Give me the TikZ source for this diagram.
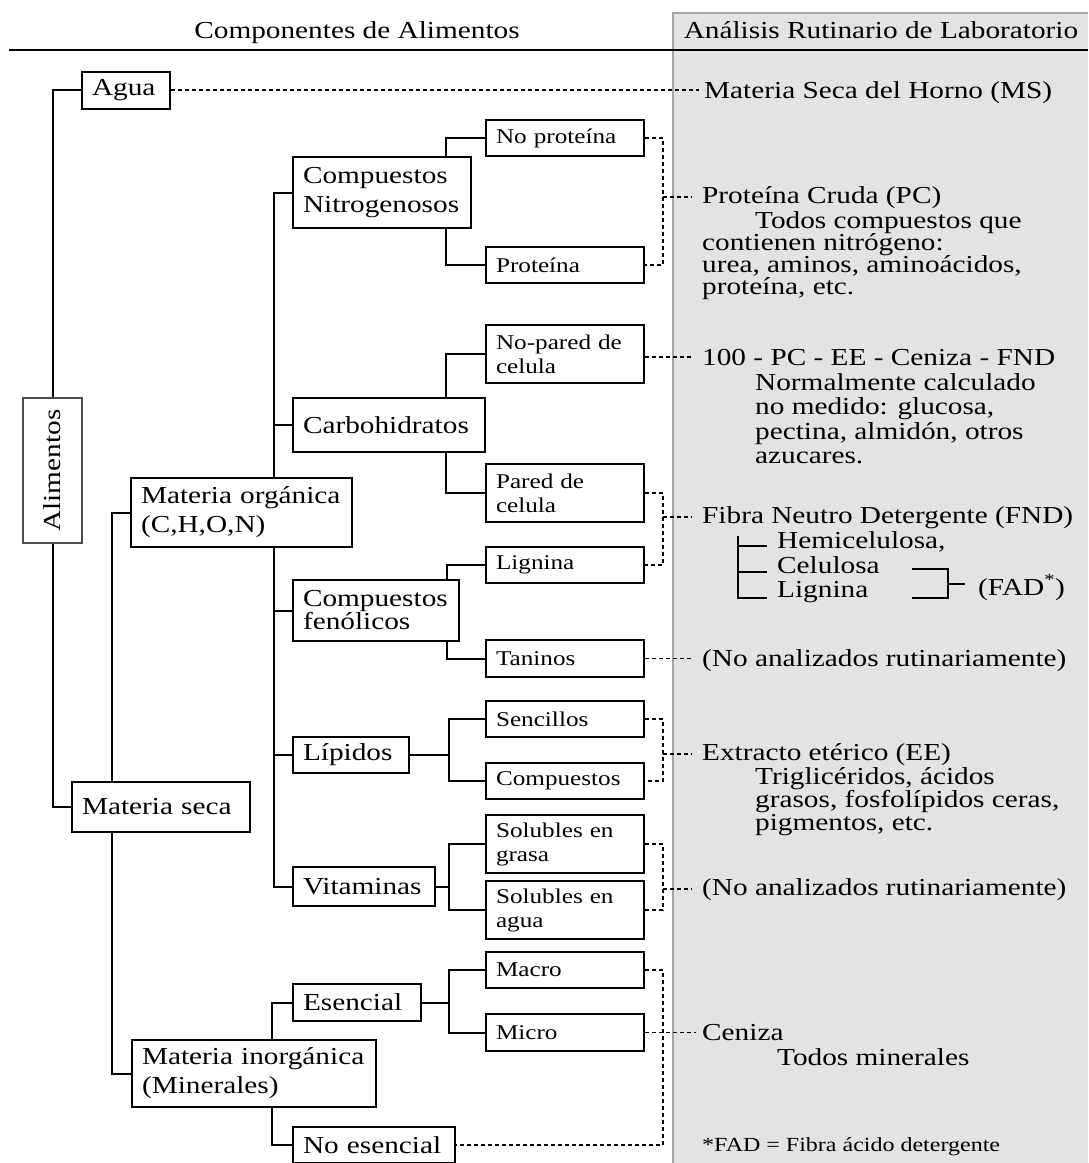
\documentclass[tikz,border=0pt]{standalone}
\usepackage{graphicx}
\usepackage{fontspec}
\setmainfont{Liberation Serif}[FakeStretch=1.2]
\usetikzlibrary{calc}
\newcommand\fmain{\fontsize{24.4}{29}\selectfont}
\newcommand\fleaf{\fontsize{21}{24}\selectfont}
\newcommand\fnote{\fontsize{20}{24}\selectfont}
\begin{document}
\begin{tikzpicture}[x=1pt,y=-1pt,
  bx/.style={draw=black, line width=2pt, inner xsep=10pt, inner ysep=0pt, align=left, font=\fmain},
  leaf/.style={bx, font=\fleaf, text width=138pt},
  ln/.style={line width=2pt},
  dsh/.style={line width=1.5pt, dash pattern=on 4pt off 3pt},
  pt/.style={anchor=base west, inner sep=0pt, font=\fmain},
]
\useasboundingbox (0,0) rectangle (1088,1163);
% panel
\fill[gray!22] (673,13) rectangle (1088,1163);
\draw[gray!70, line width=1.8pt] (1088,13) -- (673,13) -- (673,1163);
% header
\node[anchor=base, inner sep=0pt, font=\fmain] (h1) at (357,38) {Componentes de Alimentos};
\node[anchor=base, inner sep=0pt, font=\fmain] (h2) at (881,38) {Análisis Rutinario de Laboratorio};
\draw[line width=2.8pt] (9,50) -- (1088,50);

% main boxes
\node[bx, minimum height=37pt, text width=68pt] (agua) at (126,90) {Agua};
\node[bx, draw=gray!60!black, minimum height=145pt, text width=39pt, align=center] (alim) at (52.5,470.5) {\rotatebox{90}{Alimentos}};
\node[bx, minimum height=50pt, text width=158pt] (ms) at (161,807) {Materia~seca};
\node[bx, minimum height=69pt, text width=201pt] (mo) at (241.5,512.5) {Materia~orgánica\\(C,H,O,N)};
\node[bx, minimum height=67pt, text width=224pt] (mi) at (254,1073.5) {Materia~inorgánica\\(Minerales)};
\node[bx, minimum height=71pt, text width=158pt] (cn) at (382,192.5) {Compuestos\\Nitrogenosos};
\node[bx, minimum height=54pt, text width=172pt] (carb) at (389,425) {Carbohidratos};
\node[bx, minimum height=61pt, text width=146pt, font=\fontsize{24.4}{23}\selectfont] (fen) at (376,610.5) {Compuestos\\fenólicos};
\node[bx, minimum height=36pt, text width=96pt] (lip) at (351,755) {Lípidos};
\node[bx, minimum height=39pt, text width=122pt] (vit) at (364,886.5) {Vitaminas};
\node[bx, minimum height=37pt, text width=108pt] (ese) at (357,1002.5) {Esencial};
\node[bx, minimum height=36pt, text width=142pt] (noes) at (374,1145) {No~esencial};

% leaves
\node[leaf, minimum height=36pt] (noprot) at (565,138) {No~proteína};
\node[leaf, minimum height=36pt] (prot) at (565,265) {Proteína};
\node[leaf, minimum height=58pt] (nopared) at (565,354) {No-pared~de\\celula};
\node[leaf, minimum height=58pt] (pared) at (565,493) {Pared~de\\celula};
\node[leaf, minimum height=36pt] (lign) at (565,565) {Lignina};
\node[leaf, minimum height=37pt] (tan) at (565,658.5) {Taninos};
\node[leaf, minimum height=36pt] (sen) at (565,719) {Sencillos};
\node[leaf, minimum height=36pt] (comp) at (565,781) {Compuestos};
\node[leaf, minimum height=58pt] (sg) at (565,844) {Solubles~en\\grasa};
\node[leaf, minimum height=58pt] (sa) at (565,910) {Solubles~en\\agua};
\node[leaf, minimum height=36pt] (macro) at (565,970) {Macro};
\node[leaf, minimum height=37pt] (micro) at (565,1032.5) {Micro};

% tree connectors
\draw[ln] (alim.north) |- (agua.west);
\draw[ln] (alim.south) |- (ms.west);
\draw[ln] ([xshift=41pt]ms.north west) |- (mo.west);
\draw[ln] ([xshift=41pt]ms.south west) |- (mi.west);
\draw[ln] ([xshift=144pt]mo.north west) |- (cn.west);
\draw[ln] ([xshift=144pt]mo.north west) |- (carb.west);
\draw[ln] ([xshift=144pt]mo.south west) |- (fen.west);
\draw[ln] ([xshift=144pt]mo.south west) |- (lip.west);
\draw[ln] ([xshift=144pt]mo.south west) |- (vit.west);
\draw[ln] ([xshift=141pt]mi.north west) |- (ese.west);
\draw[ln] ([xshift=141pt]mi.south west) |- (noes.west);
\draw[ln] ([xshift=154pt]cn.north west) |- (noprot.west);
\draw[ln] ([xshift=154pt]cn.south west) |- (prot.west);
\draw[ln] ([xshift=154pt]carb.north west) |- (nopared.west);
\draw[ln] ([xshift=154pt]carb.south west) |- (pared.west);
\draw[ln] ([xshift=155pt]fen.north west) |- (lign.west);
\draw[ln] ([xshift=155pt]fen.south west) |- (tan.west);
\coordinate (jx) at (449,0);
\draw[ln] (lip.east) -- (lip.east -| jx);
\draw[ln] (sen.west) -| (jx |- comp.west) -- (comp.west);
\draw[ln] (vit.east) -- (vit.east -| jx);
\draw[ln] (sg.west) -| (jx |- sa.west) -- (sa.west);
\draw[ln] (ese.east) -- (ese.east -| jx);
\draw[ln] (macro.west) -| (jx |- micro.west) -- (micro.west);

% panel texts
\coordinate (brk) at (663,0);
\node[pt] (tms) at (704,98) {Materia Seca del Horno (MS)};
\draw[dsh] (agua.east) -- ($(agua.east -| tms.west)+(-5,0)$);

\node[pt] (tpc) at (702,203) {Proteína Cruda (PC)};
\node[pt] (tpc1) at (755,228) {Todos compuestos que};
\node[pt] (tpc2) at (702,250) {contienen nitrógeno:};
\node[pt] (tpc3) at (702,272) {urea, aminos, aminoácidos,};
\node[pt] (tpc4) at (702,294) {proteína, etc.};
\draw[dsh] (noprot.east) -- (noprot.east -| brk) -- (prot.east -| brk) -- (prot.east);
\draw[dsh] (brk |- tpc.west) -- ($(tpc.west)+(-10,0)$);

\node[pt] (t100) at (702,365) {100 - PC - EE - Ceniza - FND};
\node[pt] (t101) at (755,390) {Normalmente calculado};
\node[pt] (t102) at (755,414) {no medido: glucosa,};
\node[pt] (t103) at (755,439) {pectina, almidón, otros};
\node[pt] (t104) at (755,463) {azucares.};
\draw[dsh] (nopared.east |- t100.west) -- ($(t100.west)+(-10,0)$);

\node[pt] (tfnd) at (702,523) {Fibra Neutro Detergente (FND)};
\draw[dsh] (pared.east) -- (pared.east -| brk) -- (lign.east -| brk) -- (lign.east);
\draw[dsh] (brk |- tfnd.west) -- ($(tfnd.west)+(-10,0)$);
\node[pt] (thc) at (777,548) {Hemicelulosa,};
\node[pt] (tcl) at (777,573) {Celulosa};
\node[pt] (tlg) at (777,597) {Lignina};
\draw[ln] ($(thc.base west)+(-39,-12)$) -- ($(tlg.base west)+(-39,1)$) -- ($(tlg.base west)+(-10,1)$);
\draw[ln] ($(thc.base west)+(-39,-2)$) -- ($(thc.base west)+(-10,-2)$);
\draw[ln] ($(tcl.base west)+(-39,-1)$) -- ($(tcl.base west)+(-10,-1)$);
\node[pt] (tfad) at (978,595) {(FAD\textsuperscript{*})};
\draw[ln] ($(tfad.west)+(-66,-19)$) -| ($(tfad.west)+(-30,10)$) -- ($(tfad.west)+(-66,10)$);
\draw[ln] ($(tfad.west)+(-30,-4)$) -- ($(tfad.west)+(-13,-4)$);

\node[pt] (tna1) at (702,666) {(No analizados rutinariamente)};
\draw[dsh] (tan.east) -- ($(tan.east -| tna1.west)+(-10,0)$);

\node[pt] (tee) at (702,760) {Extracto etérico (EE)};
\node[pt] (tee1) at (755,784) {Triglicéridos, ácidos};
\node[pt] (tee2) at (755,807) {grasos, fosfolípidos ceras,};
\node[pt] (tee3) at (755,830) {pigmentos, etc.};
\draw[dsh] (sen.east) -- (sen.east -| brk) -- (comp.east -| brk) -- (comp.east);
\draw[dsh] (brk |- tee.west) -- ($(tee.west)+(-10,0)$);

\node[pt] (tna2) at (702,895) {(No analizados rutinariamente)};
\draw[dsh] (sg.east) -- (sg.east -| brk) -- (sa.east -| brk) -- (sa.east);
\draw[dsh] (brk |- tna2.west) -- ($(tna2.west)+(-10,0)$);

\node[pt] (tcen) at (702,1040) {Ceniza};
\node[pt] (tcen1) at (777,1065) {Todos minerales};
\draw[dsh] (macro.east) -- (macro.east -| brk) -- (noes.east -| brk) -- (noes.east);
\draw[dsh] (micro.east) -- ($(micro.east -| tcen.west)+(-6,0)$);

\node[pt, font=\fnote] (tnote) at (702,1151) {*FAD = Fibra ácido detergente};
\end{tikzpicture}
\end{document}
